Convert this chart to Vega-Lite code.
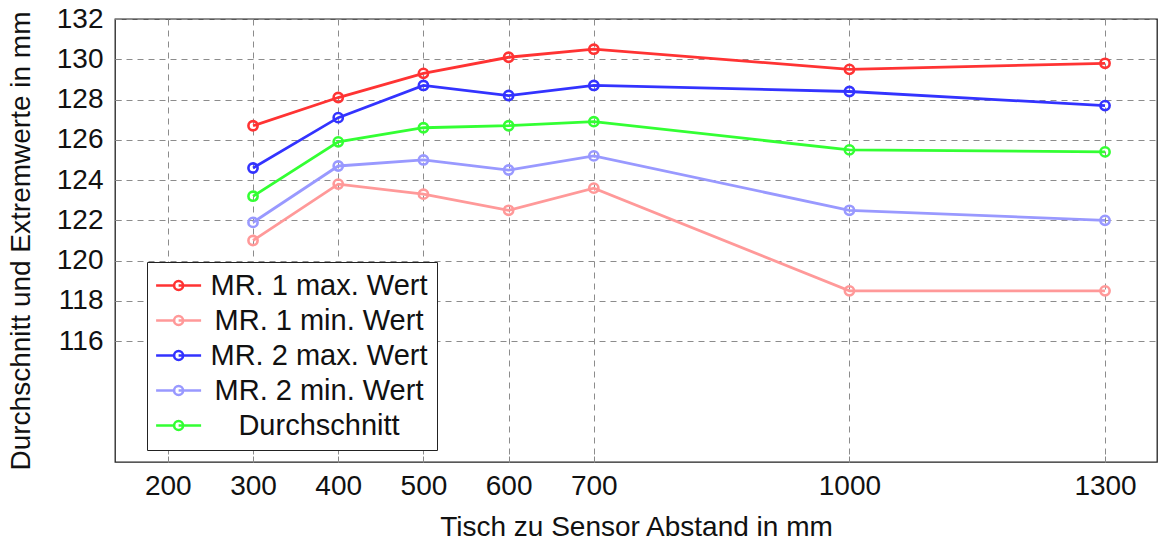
{
  "$schema": "https://vega.github.io/schema/vega-lite/v6.json",
  "autosize": "none",
  "padding": {"left": 115, "top": 19, "right": 2, "bottom": 81},
  "width": 1042,
  "height": 443,
  "background": "white",
  "config": {
    "view": {"stroke": "#222", "strokeWidth": 1.3},
    "font": "Liberation Sans"
  },
  "data": {
    "values": [
      {"d": 300, "v": 126.7, "s": "MR. 1 max. Wert"},
      {"d": 400, "v": 128.1, "s": "MR. 1 max. Wert"},
      {"d": 500, "v": 129.3, "s": "MR. 1 max. Wert"},
      {"d": 600, "v": 130.1, "s": "MR. 1 max. Wert"},
      {"d": 700, "v": 130.5, "s": "MR. 1 max. Wert"},
      {"d": 1000, "v": 129.5, "s": "MR. 1 max. Wert"},
      {"d": 1300, "v": 129.8, "s": "MR. 1 max. Wert"},
      {"d": 300, "v": 121.0, "s": "MR. 1 min. Wert"},
      {"d": 400, "v": 123.8, "s": "MR. 1 min. Wert"},
      {"d": 500, "v": 123.3, "s": "MR. 1 min. Wert"},
      {"d": 600, "v": 122.5, "s": "MR. 1 min. Wert"},
      {"d": 700, "v": 123.6, "s": "MR. 1 min. Wert"},
      {"d": 1000, "v": 118.5, "s": "MR. 1 min. Wert"},
      {"d": 1300, "v": 118.5, "s": "MR. 1 min. Wert"},
      {"d": 300, "v": 124.6, "s": "MR. 2 max. Wert"},
      {"d": 400, "v": 127.1, "s": "MR. 2 max. Wert"},
      {"d": 500, "v": 128.7, "s": "MR. 2 max. Wert"},
      {"d": 600, "v": 128.2, "s": "MR. 2 max. Wert"},
      {"d": 700, "v": 128.7, "s": "MR. 2 max. Wert"},
      {"d": 1000, "v": 128.4, "s": "MR. 2 max. Wert"},
      {"d": 1300, "v": 127.7, "s": "MR. 2 max. Wert"},
      {"d": 300, "v": 121.9, "s": "MR. 2 min. Wert"},
      {"d": 400, "v": 124.7, "s": "MR. 2 min. Wert"},
      {"d": 500, "v": 125.0, "s": "MR. 2 min. Wert"},
      {"d": 600, "v": 124.5, "s": "MR. 2 min. Wert"},
      {"d": 700, "v": 125.2, "s": "MR. 2 min. Wert"},
      {"d": 1000, "v": 122.5, "s": "MR. 2 min. Wert"},
      {"d": 1300, "v": 122.0, "s": "MR. 2 min. Wert"},
      {"d": 300, "v": 123.2, "s": "Durchschnitt"},
      {"d": 400, "v": 125.9, "s": "Durchschnitt"},
      {"d": 500, "v": 126.6, "s": "Durchschnitt"},
      {"d": 600, "v": 126.7, "s": "Durchschnitt"},
      {"d": 700, "v": 126.9, "s": "Durchschnitt"},
      {"d": 1000, "v": 125.5, "s": "Durchschnitt"},
      {"d": 1300, "v": 125.4, "s": "Durchschnitt"}
    ]
  },
  "encoding": {
    "x": {
      "field": "d", "type": "quantitative",
      "scale": {"domain": [138, 1361], "nice": false, "zero": false},
      "axis": {
        "title": "Tisch zu Sensor Abstand in mm",
        "values": [200, 300, 400, 500, 600, 700, 1000, 1300],
        "format": "d",
        "grid": true, "gridDash": [6, 5], "gridColor": "#8c8c8c", "gridWidth": 1,
        "domain": false,
        "ticks": true, "tickSize": -6, "tickColor": "#888",
        "labelFontSize": 28, "labelColor": "#111", "labelPadding": 16,
        "titleFontSize": 28, "titleFontWeight": "normal", "titleColor": "#111", "titlePadding": 13
      }
    },
    "y": {
      "field": "v", "type": "quantitative",
      "scale": {"domain": [110, 132], "nice": false, "zero": false},
      "axis": {
        "title": "Durchschnitt und Extremwerte in mm",
        "values": [116, 118, 120, 122, 124, 126, 128, 130, 132],
        "grid": true, "gridDash": [6, 5], "gridColor": "#8c8c8c", "gridWidth": 1,
        "domain": false,
        "ticks": true, "tickSize": -6, "tickColor": "#888",
        "labelFontSize": 28, "labelColor": "#111", "labelPadding": 18,
        "titleFontSize": 28, "titleFontWeight": "normal", "titleColor": "#111", "titlePadding": 21
      }
    },
    "color": {
      "field": "s", "type": "nominal",
      "scale": {
        "domain": ["MR. 1 max. Wert", "MR. 1 min. Wert", "MR. 2 max. Wert", "MR. 2 min. Wert", "Durchschnitt"],
        "range": ["#ff3333", "#ff9999", "#3333ff", "#9999ff", "#33ff33"]
      },
      "legend": {
        "orient": "none", "legendX": 32, "legendY": 243,
        "title": null,
        "strokeColor": "#222", "fillColor": "white", "padding": 9,
        "symbolType": "M-1.6,0 L0.4,0 M0.9,0 L3.4,0 M0.4,0 A0.5,0.5 0 1,1 1.4,0 A0.5,0.5 0 1,1 0.4,0",
        "symbolSize": 324, "symbolStrokeWidth": 2.6, "symbolFillColor": "transparent",
        "labelFontSize": 29, "labelColor": "#111", "labelAlign": "center", "labelOffset": 134,
        "labelLimit": 400, "rowPadding": 5
      }
    }
  },
  "layer": [
    {"mark": {"type": "line", "strokeWidth": 2.8}},
    {"mark": {"type": "point", "shape": "circle", "filled": false, "size": 85, "strokeWidth": 2.6, "opacity": 1}}
  ]
}
